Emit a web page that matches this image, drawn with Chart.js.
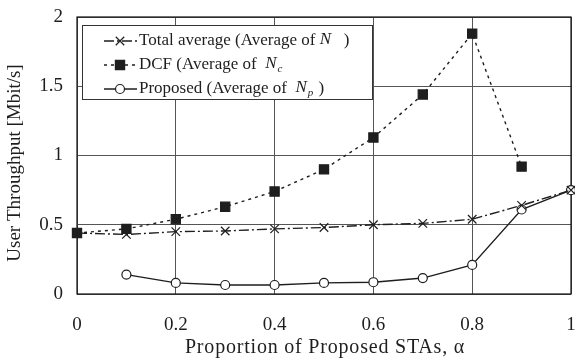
<!DOCTYPE html>
<html>
<head>
<meta charset="utf-8">
<script src="https://cdn.jsdelivr.net/npm/chart.js@4/dist/chart.umd.min.js"></script>
<style>
  html, body { margin: 0; padding: 0; background: #fff; }
  #wrap { width: 575px; height: 358px; }
</style>
</head>
<body>
<div id="wrap"><canvas id="chart" width="575" height="358"></canvas></div>
<script>
// Proportion of proposed STAs (alpha)
const alpha = [0, 0.1, 0.2, 0.3, 0.4, 0.5, 0.6, 0.7, 0.8, 0.9, 1.0];
// User throughput [Mbit/s]
const totalAverage = [0.44, 0.43, 0.45, 0.455, 0.47, 0.48, 0.50, 0.51, 0.54, 0.64, 0.75];
const dcfAverage = [0.44, 0.47, 0.54, 0.63, 0.74, 0.90, 1.13, 1.44, 1.88, 0.92, null];
const proposedAverage = [null, 0.14, 0.08, 0.065, 0.065, 0.08, 0.085, 0.115, 0.21, 0.61, 0.75];

const xTickLabels = ['0', '0.2', '0.4', '0.6', '0.8', '1'];
const yTickLabels = ['0', '0.5', '1', '1.5', '2'];
const xTitle = 'Proportion of Proposed STAs, α';
const yTitle = 'User Throughput [Mbit/s]';

// Legend entries: plain text, italic symbol, italic subscript, trailing text
const legendEntries = [
  { text: 'Total average (Average of ', sym: 'N', sub: '', tail: '   )' },
  { text: 'DCF (Average of  ', sym: 'N', sub: 'c', tail: '' },
  { text: 'Proposed (Average of  ', sym: 'N', sub: 'p', tail: ' )' }
];

const SERIF = '"Liberation Serif", "DejaVu Serif", serif';
const INK = '#1e1e1e';

const toPoints = (ys) => alpha.map((x, i) => ({ x, y: ys[i] }));

const series = [
  { label: 'Total average', data: toPoints(totalAverage), borderDash: [10, 3, 2, 3],
    pointStyle: 'crossRot', pointRadius: 6, backgroundColor: INK },
  { label: 'DCF', data: toPoints(dcfAverage), borderDash: [3, 4],
    pointStyle: 'rect', pointRadius: 6.5, backgroundColor: INK },
  { label: 'Proposed', data: toPoints(proposedAverage), borderDash: [],
    pointStyle: 'circle', pointRadius: 4.5, backgroundColor: '#ffffff' }
];

// Boxed legend drawn inside the plot area
const boxedLegend = {
  id: 'boxedLegend',
  afterDatasetsDraw(chart) {
    const ctx = chart.ctx;
    const left = 82, top = 25, w = 290, h = 74;
    ctx.save();
    ctx.fillStyle = '#ffffff';
    ctx.fillRect(left, top, w, h);
    ctx.strokeStyle = '#333';
    ctx.lineWidth = 1;
    ctx.setLineDash([]);
    ctx.strokeRect(left + 0.5, top + 0.5, w, h);
    const rows = [41, 65, 89];
    legendEntries.forEach((e, i) => {
      const ds = chart.data.datasets[i];
      const y = rows[i];
      ctx.strokeStyle = INK;
      ctx.lineWidth = 1.4;
      ctx.setLineDash(ds.borderDash);
      ctx.beginPath();
      ctx.moveTo(104, y);
      ctx.lineTo(137, y);
      ctx.stroke();
      ctx.setLineDash([]);
      ctx.fillStyle = ds.pointBackgroundColor;
      ctx.strokeStyle = INK;
      ctx.lineWidth = 1.2;
      Chart.helpers.drawPoint(ctx, {
        pointStyle: ds.pointStyle, radius: ds.pointRadius, borderWidth: 1.2, rotation: 0
      }, 120, y);
      ctx.fillStyle = INK;
      ctx.textBaseline = 'middle';
      ctx.textAlign = 'left';
      ctx.font = '17px ' + SERIF;
      let x = 139;
      ctx.fillText(e.text, x, y);
      x += ctx.measureText(e.text).width;
      ctx.font = 'italic 17px ' + SERIF;
      ctx.fillText(e.sym, x, y - 1);
      x += ctx.measureText(e.sym).width;
      if (e.sub) {
        ctx.font = 'italic 11px ' + SERIF;
        ctx.fillText(e.sub, x + 1, y + 4);
        x += ctx.measureText(e.sub).width + 2;
      }
      ctx.font = '17px ' + SERIF;
      ctx.fillText(e.tail, x, y);
    });
    ctx.restore();
  }
};

// Black frame around the plot area and the two axis titles
const plotFrame = {
  id: 'plotFrame',
  beforeDatasetsDraw(chart) {
    const { left, top, right, bottom } = chart.chartArea;
    const ctx = chart.ctx;
    ctx.save();
    ctx.strokeStyle = '#111';
    ctx.lineWidth = 1.2;
    ctx.strokeRect(left, top, right - left, bottom - top);
    ctx.restore();
  },
  afterDraw(chart) {
    const { left, right } = chart.chartArea;
    const ctx = chart.ctx;
    ctx.save();
    ctx.fillStyle = INK;
    ctx.textAlign = 'center';
    ctx.textBaseline = 'middle';
    ctx.font = '20px ' + SERIF;
    ctx.letterSpacing = '0.8px';
    ctx.fillText(xTitle, (left + right) / 2 + 1, 348);
    ctx.letterSpacing = '0px';
    ctx.font = '19px ' + SERIF;
    ctx.translate(15, 163);
    ctx.rotate(-Math.PI / 2);
    ctx.fillText(yTitle, 0, 0);
    ctx.restore();
  }
};

const noScalePadding = (scale) => {
  scale.paddingLeft = 0; scale.paddingRight = 0;
  scale.paddingTop = 0; scale.paddingBottom = 0;
};

new Chart(document.getElementById('chart'), {
  type: 'line',
  data: {
    datasets: series.map(s => ({
      label: s.label,
      data: s.data,
      borderColor: INK,
      borderWidth: 1.4,
      borderDash: s.borderDash,
      pointStyle: s.pointStyle,
      pointRadius: s.pointRadius,
      pointBackgroundColor: s.backgroundColor,
      pointBorderColor: INK,
      pointBorderWidth: 1.2,
      backgroundColor: s.backgroundColor,
      tension: 0,
      spanGaps: false,
      clip: false,
      fill: false
    }))
  },
  options: {
    responsive: false,
    animation: false,
    layout: { autoPadding: false, padding: { top: 17, right: 4, left: 0, bottom: 0 } },
    plugins: { legend: { display: false }, tooltip: { enabled: false } },
    scales: {
      x: {
        type: 'linear', min: 0, max: 1,
        afterBuildTicks: (scale) => { scale.ticks = xTickLabels.map(v => ({ value: parseFloat(v) })); },
        afterFit: (scale) => { scale.height = 64; noScalePadding(scale); },
        ticks: {
          color: INK, padding: 20, maxRotation: 0,
          font: { family: SERIF, size: 19 },
          callback: (v) => xTickLabels.find(t => parseFloat(t) === v)
        },
        grid: { color: '#555', lineWidth: 1, drawTicks: false },
        border: { display: false }
      },
      y: {
        min: 0, max: 2,
        afterBuildTicks: (scale) => { scale.ticks = yTickLabels.map(v => ({ value: parseFloat(v) })); },
        afterFit: (scale) => { scale.width = 77; noScalePadding(scale); },
        ticks: {
          color: INK, padding: 14,
          font: { family: SERIF, size: 19 },
          callback: (v) => yTickLabels.find(t => parseFloat(t) === v)
        },
        grid: { color: '#555', lineWidth: 1, drawTicks: false },
        border: { display: false }
      }
    }
  },
  plugins: [plotFrame, boxedLegend]
});
</script>
</body>
</html>
